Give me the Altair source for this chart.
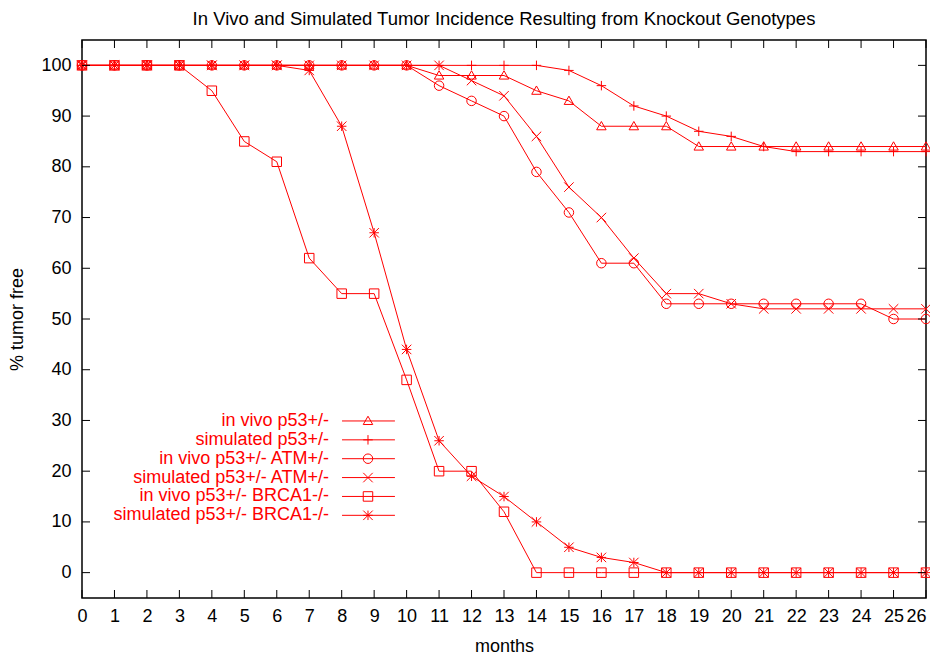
import altair as alt
import pandas as pd

months = list(range(27))

series_names = [
    "in vivo p53+/-",
    "simulated p53+/-",
    "in vivo p53+/- ATM+/-",
    "simulated p53+/- ATM+/-",
    "in vivo p53+/- BRCA1-/-",
    "simulated p53+/- BRCA1-/-",
]

invivo_p53 = [100]*11 + [98, 98, 98, 95, 93, 88, 88, 88, 84, 84, 84, 84, 84, 84, 84, 84]
sim_p53 = [100]*15 + [99, 96, 92, 90, 87, 86, 84, 83, 83, 83, 83, 83]
invivo_atm = [100]*11 + [96, 93, 90, 79, 71, 61, 61, 53, 53, 53, 53, 53, 53, 53, 50, 50]
sim_atm = [100]*12 + [97, 94, 86, 76, 70, 62, 55, 55, 53, 52, 52, 52, 52, 52, 52]
invivo_brca = [100, 100, 100, 100, 95, 85, 81, 62, 55, 55, 38, 20, 20, 12] + [0]*13
sim_brca = [100]*7 + [99, 88, 67, 44, 26, 19, 15, 10, 5, 3, 2] + [0]*9

all_values = [invivo_p53, sim_p53, invivo_atm, sim_atm, invivo_brca, sim_brca]

y_ticks = list(range(0, 101, 10))
x_ticks = months

shape_paths = [
    "M0,-1L1,0.75L-1,0.75Z",
    "M-1,0L1,0M0,-1L0,1",
    "circle",
    "M-1,-1L1,1M-1,1L1,-1",
    "square",
    "M-1,0L1,0M0,-1L0,1M-1,-1L1,1M-1,1L1,-1",
]

rows = []
for name, vals in zip(series_names, all_values):
    for m, v in zip(months, vals):
        rows.append({"series": name, "month": m, "value": v})
df = pd.DataFrame(rows)

W, H = 844, 558
RED = "#ff0000"
FONT = "Liberation Sans"

xscale = alt.Scale(domain=[0, 26], nice=False, zero=False)
yscale = alt.Scale(domain=[-5, 105], nice=False, zero=False)
shape_scale = alt.Scale(domain=series_names, range=shape_paths)

x_axis = alt.Axis(
    values=x_ticks, title="months", labelPadding=9, titlePadding=12, format="d",
    labelOverlap=False, labelFlush=False,
    labelAlign=alt.ExprRef("datum.value == 26 ? 'right' : 'center'"),
)
y_axis = alt.Axis(
    values=y_ticks, title="% tumor free", labelPadding=11, titlePadding=14,
    format="d", labelOverlap=False, labelFlush=False,
)


def X(field):
    return alt.X(field, scale=xscale, axis=x_axis)


def Y(field):
    return alt.Y(field, scale=yscale, axis=y_axis)


base = alt.Chart(df)

lines = base.mark_line(color=RED, strokeWidth=1).encode(
    x=X("month:Q"), y=Y("value:Q"), detail="series:N", order="month:Q",
)

points = base.mark_point(filled=False, color=RED, strokeWidth=1, size=90, opacity=1).encode(
    x=X("month:Q"), y=Y("value:Q"),
    shape=alt.Shape("series:N", scale=shape_scale, legend=None),
)

# manual gnuplot-style key (positions in data coordinates)
leg_rows = []
for i, name in enumerate(series_names):
    yv = 29.9 - i * 3.72
    leg_rows.append({"series": name, "ly": yv, "tx": 7.61, "l1": 8.01, "l2": 9.64, "lm": 8.81})
leg = pd.DataFrame(leg_rows)
lbase = alt.Chart(leg)

leg_text = lbase.mark_text(align="right", baseline="middle", color=RED,
                           font=FONT, fontSize=18).encode(
    x=X("tx:Q"), y=Y("ly:Q"), text="series:N")
leg_line = lbase.mark_rule(color=RED, strokeWidth=1).encode(
    x=X("l1:Q"), x2="l2:Q", y=Y("ly:Q"))
leg_pts = lbase.mark_point(filled=False, color=RED, strokeWidth=1, size=90, opacity=1).encode(
    x=X("lm:Q"), y=Y("ly:Q"),
    shape=alt.Shape("series:N", scale=shape_scale, legend=None))

# inward ticks on all four sides
yt = alt.Chart(pd.DataFrame({"v": y_ticks}))
xt = alt.Chart(pd.DataFrame({"v": x_ticks}))
tick_style = dict(color="black", strokeWidth=1)
left_ticks = yt.mark_rule(**tick_style).encode(
    y=Y("v:Q"), x=alt.value(0), x2=alt.value(8))
right_ticks = yt.mark_rule(**tick_style).encode(
    y=Y("v:Q"), x=alt.value(W - 8), x2=alt.value(W))
top_ticks = xt.mark_rule(**tick_style).encode(
    x=X("v:Q"), y=alt.value(0), y2=alt.value(8))
bottom_ticks = xt.mark_rule(**tick_style).encode(
    x=X("v:Q"), y=alt.value(H - 8), y2=alt.value(H))

chart = alt.layer(
    lines, points, left_ticks, right_ticks, top_ticks, bottom_ticks,
    leg_line, leg_pts, leg_text,
).properties(
    width=W, height=H,
    title=alt.Title("In Vivo and Simulated Tumor Incidence Resulting from Knockout Genotypes",
                    font=FONT, fontSize=18.5, fontWeight="normal", color="black",
                    anchor="middle", offset=11),
    autosize=alt.AutoSizeParams(type="none"),
    padding={"left": 74, "top": 32, "right": 4, "bottom": 56},
).configure_view(
    stroke="black", strokeWidth=1.5,
).configure_axis(
    domain=False, ticks=False, grid=False,
    labelFont=FONT, labelFontSize=18, labelColor="black",
    titleFont=FONT, titleFontSize=18, titleFontWeight="normal", titleColor="black",
)

chart.save("out.html", embed_options={"renderer": "svg", "actions": False})
